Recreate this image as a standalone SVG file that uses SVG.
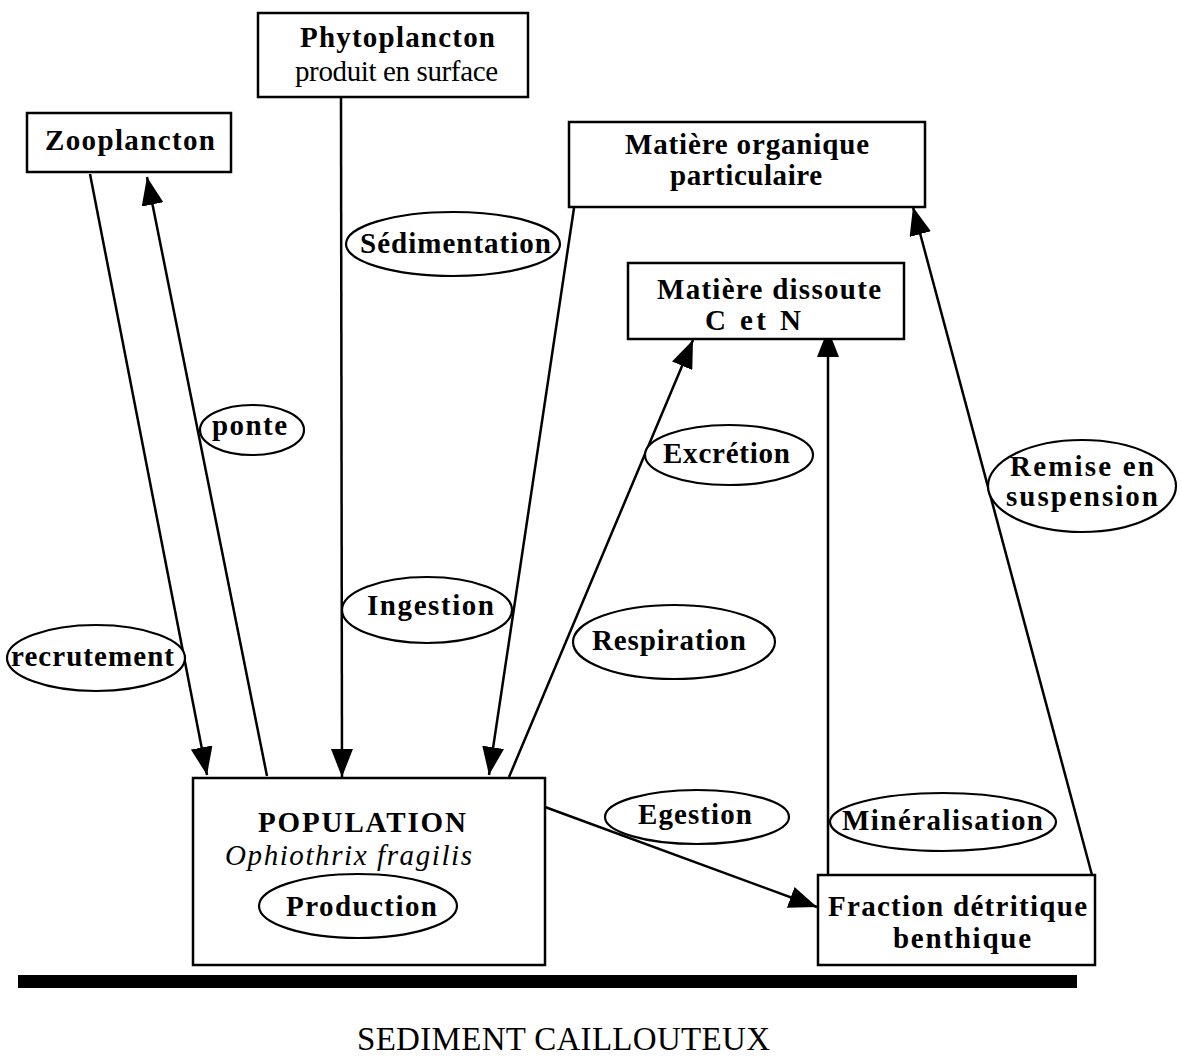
<svg xmlns="http://www.w3.org/2000/svg" width="1182" height="1057" viewBox="0 0 1182 1057">
<style>
.box{fill:#fff;stroke:#000;stroke-width:2.5}
.ell{fill:#fff;stroke:#000;stroke-width:2.2}
.t{font-family:"Liberation Serif",serif;font-size:29px;font-weight:bold;fill:#000}
.r{font-weight:normal}
.i{font-style:italic;font-weight:normal}
.c{stroke:#000;stroke-width:2.5;fill:none;marker-end:url(#ah)}
</style>
<defs>
<marker id="ah" markerUnits="userSpaceOnUse" markerWidth="30" markerHeight="22" refX="28" refY="11" orient="auto">
<path d="M0,0 L28,11 L0,22 z" fill="#000"/>
</marker>
</defs>
<rect width="1182" height="1057" fill="#fff"/>
<g id="connectors">
<line class="c" x1="90" y1="174" x2="207" y2="775"/>
<line class="c" x1="267" y1="776" x2="147" y2="177"/>
<line class="c" x1="341" y1="98" x2="342" y2="777"/>
<line class="c" x1="574" y1="208" x2="489" y2="775"/>
<line class="c" x1="509" y1="777" x2="693" y2="340"/>
<line class="c" x1="828" y1="875" x2="828" y2="329"/>
<line class="c" x1="1092" y1="875" x2="913" y2="207"/>
<line class="c" x1="545" y1="807" x2="817" y2="907"/>
</g>
<g id="zooplancton"><rect class="box" x="27" y="113" width="204" height="59"/><text class="t" x="45" y="150" textLength="170">Zooplancton</text></g>
<g id="phytoplancton"><rect class="box" x="258" y="13" width="270" height="84"/><text class="t" x="300" y="47" textLength="195">Phytoplancton</text><text class="t r" x="295" y="81" textLength="203">produit en surface</text></g>
<g id="mop"><rect class="box" x="569" y="122" width="356" height="85"/><text class="t" x="625" y="154" textLength="244">Matière organique</text><text class="t" x="670" y="185" textLength="152">particulaire</text></g>
<g id="dissoute"><rect class="box" x="628" y="263" width="276" height="76"/><text class="t" x="657" y="299" textLength="224">Matière dissoute</text><text class="t" x="705" y="330" textLength="96">C et N</text></g>
<g id="population"><rect class="box" x="193" y="778" width="352" height="187"/><text class="t" x="258" y="832" textLength="208">POPULATION</text><text class="t i" x="225" y="865" textLength="247">Ophiothrix fragilis</text><ellipse class="ell" cx="358" cy="906" rx="99" ry="32"/><text class="t" x="286" y="916" textLength="151">Production</text></g>
<g id="fraction"><rect class="box" x="818" y="875" width="277" height="90"/><text class="t" x="828" y="916" textLength="259">Fraction détritique</text><text class="t" x="893" y="948" textLength="138">benthique</text></g>
<g id="labels">
<ellipse class="ell" cx="453" cy="244" rx="107" ry="32"/><text class="t" x="360" y="253" textLength="191">Sédimentation</text>
<ellipse class="ell" cx="252" cy="430" rx="52" ry="25"/><text class="t" x="212" y="435" textLength="75">ponte</text>
<ellipse class="ell" cx="96" cy="658" rx="89" ry="33"/><text class="t" x="11" y="666" textLength="163">recrutement</text>
<ellipse class="ell" cx="427" cy="610" rx="85" ry="33"/><text class="t" x="367" y="615" textLength="127">Ingestion</text>
<ellipse class="ell" cx="729" cy="455" rx="84" ry="30"/><text class="t" x="663" y="463" textLength="127">Excrétion</text>
<ellipse class="ell" cx="674" cy="642" rx="101" ry="37"/><text class="t" x="592" y="650" textLength="154">Respiration</text>
<ellipse class="ell" cx="1082" cy="486" rx="94" ry="46"/><text class="t" x="1010" y="476" textLength="144">Remise en</text><text class="t" x="1006" y="506" textLength="152">suspension</text>
<ellipse class="ell" cx="697" cy="817" rx="92" ry="27"/><text class="t" x="638" y="824" textLength="114">Egestion</text>
<ellipse class="ell" cx="943" cy="822" rx="113" ry="29"/><text class="t" x="842" y="830" textLength="201">Minéralisation</text>
</g>
<rect x="18" y="975" width="1059" height="13" fill="#000"/>
<text class="t r" x="357" y="1050" textLength="413" style="font-size:33px">SEDIMENT CAILLOUTEUX</text>
</svg>
